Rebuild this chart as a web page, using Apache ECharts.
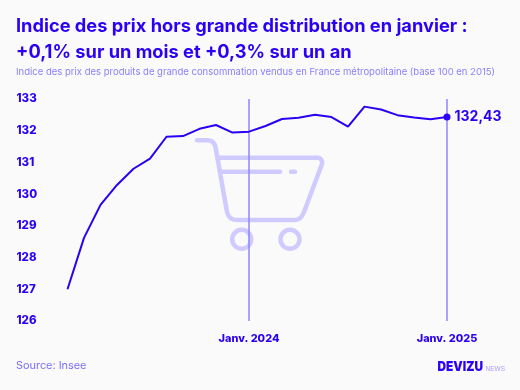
<!DOCTYPE html>
<html><head><meta charset="utf-8">
<style>html,body{margin:0;padding:0;background:#fafafa}#c{width:520px;height:390px}</style>
<script src="https://cdn.jsdelivr.net/npm/echarts@6/dist/echarts.min.js"></script>
</head><body><div id="c"></div>
<script>
const months = ["Févr. 2023","Mars 2023","Avr. 2023","Mai 2023","Juin 2023","Juil. 2023","Août 2023","Sept. 2023","Oct. 2023","Nov. 2023","Déc. 2023","Janv. 2024","Févr. 2024","Mars 2024","Avr. 2024","Mai 2024","Juin 2024","Juil. 2024","Août 2024","Sept. 2024","Oct. 2024","Nov. 2024","Déc. 2024","Janv. 2025"];
const indexValues = [127.0,128.62,129.66,130.29,130.8,131.12,131.81,131.83,132.06,132.18,131.94,131.97,132.15,132.37,132.41,132.5,132.43,132.13,132.76,132.67,132.49,132.42,132.36,132.43];
const shownMonths = ["Janv. 2024","Janv. 2025"];
const yTicks = [126,127,128,129,130,131,132,133];
const titleLines = ["Indice des prix hors grande distribution en janvier :","+0,1% sur un mois et +0,3% sur un an"];
const subtitle = "Indice des prix des produits de grande consommation vendus en France métropolitaine (base 100 en 2015)";
const source = "Source: Insee";
const blue = "#2b00f5", mid = "#8f85ff", light = "#cfcbff", F = "Inter, 'Noto Sans', sans-serif";
echarts.graphic.registerShape('cartBody', echarts.graphic.extendShape({
  buildPath(ctx){
    ctx.moveTo(197,140.3); ctx.lineTo(207,140.3);
    ctx.quadraticCurveTo(214,140.3,215.5,147);
    ctx.lineTo(227,212); ctx.quadraticCurveTo(229,220,237,220);
    ctx.lineTo(295,220); ctx.quadraticCurveTo(301,220,304,212);
    ctx.lineTo(322,164); ctx.quadraticCurveTo(323,157.7,317,157.7);
    ctx.lineTo(218,157.7);
  }
}));
const chart = echarts.init(document.getElementById('c'), null, {renderer:'canvas'});
const last = indexValues.length - 1;
const cart = {stroke:light, fill:null, lineWidth:4.5, lineCap:'round', lineJoin:'round'};
const isShown = (i,v)=>shownMonths.includes(v);
chart.setOption({
  backgroundColor:'#fafafa', animation:false,
  title:[
    {text:titleLines[0], left:16, top:18, padding:0, textStyle:{fontFamily:F,fontSize:18.25,fontWeight:700,color:blue}},
    {text:titleLines[1], left:16, top:44, padding:0, textStyle:{fontFamily:F,fontSize:18.25,fontWeight:700,color:blue}},
    {text:subtitle, left:16, top:67, padding:0, textStyle:{fontFamily:F,fontSize:9.5,fontWeight:400,color:'#8a80fb'}},
    {text:source, left:16, top:360, padding:0, textStyle:{fontFamily:F,fontSize:10.9,fontWeight:400,color:'#7a6ffb'}}
  ],
  grid:{left:67.5,right:73,top:99,bottom:69},
  xAxis:{type:'category',data:months,boundaryGap:false,
    axisLine:{show:false},axisTick:{show:false},
    splitLine:{show:true,interval:isShown,lineStyle:{color:mid,width:1.5,type:'solid',opacity:1}},
    axisLabel:{margin:12,fontFamily:F,fontSize:10.9,fontWeight:800,color:blue,hideOverlap:false,interval:isShown}},
  yAxis:{type:'value',min:yTicks[0],max:yTicks[yTicks.length-1],interval:1,
    axisLine:{show:false},axisTick:{show:false},splitLine:{show:false},
    axisLabel:{align:'left',margin:51,fontFamily:F,fontSize:11.5,fontWeight:800,color:blue}},
  graphic:[
    {type:'group',silent:true,z:0,children:[
      {type:'cartBody',shape:{},style:cart},
      {type:'line',shape:{x1:222,y1:171.7,x2:280,y2:171.7},style:cart},
      {type:'line',shape:{x1:291,y1:171.7,x2:295,y2:171.7},style:cart},
      {type:'circle',shape:{cx:241.7,cy:239.3,r:9.5},style:cart},
      {type:'circle',shape:{cx:290,cy:239.3,r:9.5},style:cart}
    ]},
    {type:'text',x:437.5,y:360,scaleX:0.88,style:{text:'DEVIZU',fontFamily:F,fontSize:13.5,fontWeight:900,fill:blue}},
    {type:'text',x:485.5,y:366,style:{text:'NEWS',fontFamily:"'Liberation Sans Narrow','Liberation Sans',sans-serif",fontSize:6.5,fill:'#a9a2ff'}}
  ],
  series:[{type:'line',data:indexValues.map((v,i)=>i===last?{value:v,symbol:'circle',symbolSize:7,
      label:{show:true,position:'right',distance:4,formatter:()=>String(v).replace('.',','),fontFamily:F,fontSize:14,fontWeight:700,color:blue}}:{value:v,symbol:'none'}),
    lineStyle:{color:blue,width:2},itemStyle:{color:blue},showSymbol:true,z:3}]
});
</script></body></html>
